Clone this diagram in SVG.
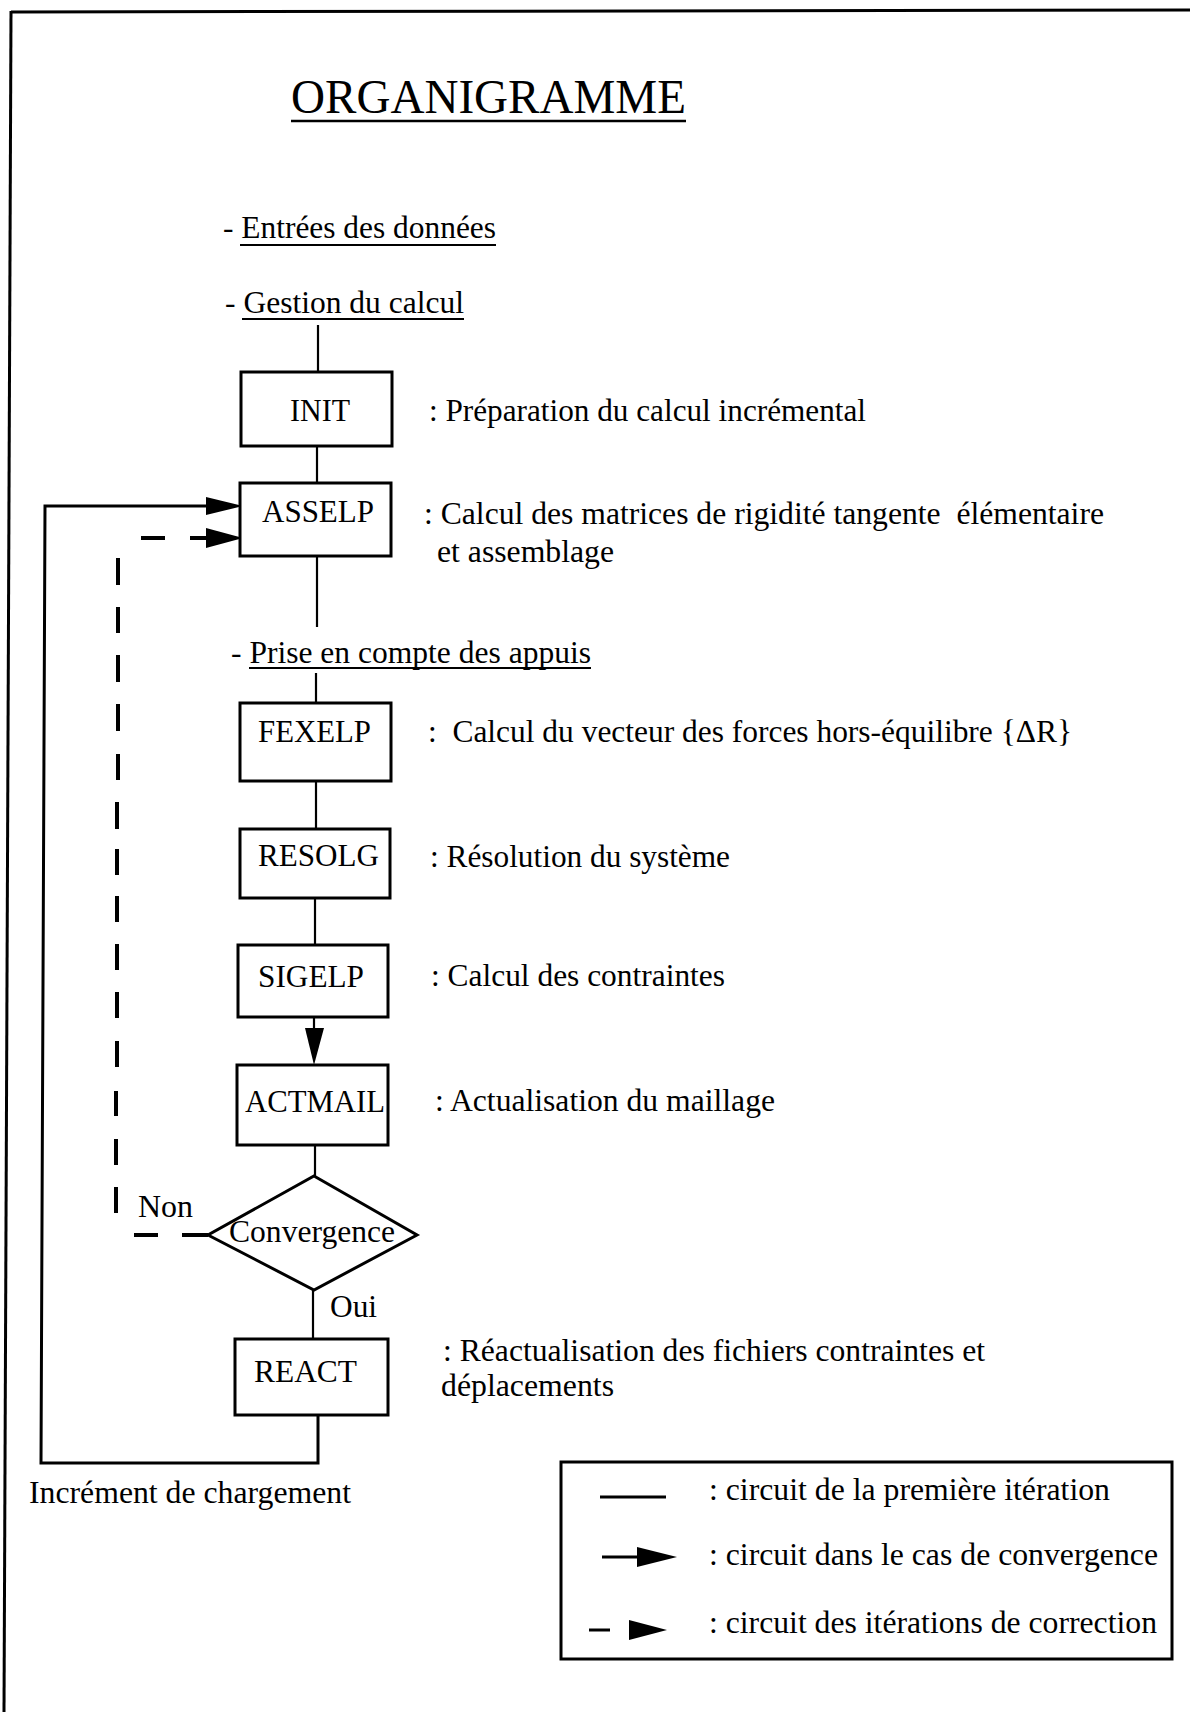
<svg xmlns="http://www.w3.org/2000/svg" width="1190" height="1712" viewBox="0 0 1190 1712">
<style>
text{font-family:"Liberation Serif","Times New Roman",serif;font-size:31.5px;fill:#000}
.t{font-size:47.5px}
.box{fill:#fff;stroke:#000;stroke-width:3}
.ln{fill:none;stroke:#000;stroke-width:2.2}
.th{fill:none;stroke:#000;stroke-width:3}
.dsh{fill:none;stroke:#000;stroke-width:4}
.ah{fill:#000;stroke:none}
</style>
<rect x="0" y="0" width="1190" height="1712" fill="#fff"/>
<g id="frame">
<line x1="11" y1="12" x2="1190" y2="10" stroke="#000" stroke-width="3"/>
<line x1="11" y1="11" x2="4" y2="1712" stroke="#000" stroke-width="3"/>
</g>
<g id="title">
<text class="t" x="291" y="113" textLength="395" lengthAdjust="spacingAndGlyphs">ORGANIGRAMME</text>
<line x1="291" y1="121" x2="686" y2="121" stroke="#000" stroke-width="2.5"/>
</g>
<g id="entrees">
<text x="223" y="238" textLength="273" lengthAdjust="spacingAndGlyphs">- Entrées des données</text>
<line x1="240" y1="245" x2="496" y2="245" stroke="#000" stroke-width="2"/>
</g>
<g id="gestion">
<text x="225" y="313" textLength="239" lengthAdjust="spacingAndGlyphs">- Gestion du calcul</text>
<line x1="242" y1="319" x2="464" y2="319" stroke="#000" stroke-width="2"/>
</g>
<g id="prise">
<text x="231" y="663" textLength="360" lengthAdjust="spacingAndGlyphs">- Prise en compte des appuis</text>
<line x1="249" y1="668" x2="591" y2="668" stroke="#000" stroke-width="2"/>
</g>
<g id="connectors">
<line class="ln" x1="318" y1="325" x2="318" y2="372"/>
<line class="ln" x1="317" y1="446" x2="317" y2="483"/>
<line class="ln" x1="317" y1="556" x2="317" y2="627"/>
<line class="ln" x1="316" y1="673" x2="316" y2="703"/>
<line class="ln" x1="316" y1="781" x2="316" y2="829"/>
<line class="ln" x1="315" y1="898" x2="315" y2="945"/>
<line class="ln" x1="314" y1="1017" x2="314" y2="1030"/>
<polygon class="ah" points="305,1028 324,1028 314,1065"/>
<line class="ln" x1="315" y1="1145" x2="315" y2="1176"/>
<line class="ln" x1="313" y1="1290" x2="313" y2="1339"/>
<path class="th" d="M318,1415 V1463 H41 L45,506 H208"/>
<polygon class="ah" points="206,497 243,506 206,515"/>
<path class="dsh" d="M134,1235 H158 M182,1235 H208 M116,1187 V1213 M116,1139 V1165 M116,1091 V1116 M117,1041 V1067 M117,992 V1018 M117,944 V970 M117,896 V922 M117,849 V875 M117,802 V829 M118,754 V780 M118,704 V731 M118,655 V682 M118,607 V633 M118,558 V585 M141,538 H165 M190,538 H208"/>
<polygon class="ah" points="206,528 243,538 206,548"/>
</g>
<g id="init">
<rect class="box" x="241" y="372" width="151" height="74"/>
<text x="290" y="421" textLength="60" lengthAdjust="spacingAndGlyphs">INIT</text>
<text x="429" y="421" textLength="437" lengthAdjust="spacingAndGlyphs">: Préparation du calcul incrémental</text>
</g>
<g id="asselp">
<rect class="box" x="240" y="483" width="151" height="73"/>
<text x="262" y="522" textLength="112" lengthAdjust="spacingAndGlyphs">ASSELP</text>
<text x="424" y="524" xml:space="preserve" textLength="680" lengthAdjust="spacingAndGlyphs">: Calcul des matrices de rigidité tangente  élémentaire</text>
<text x="437" y="562" textLength="177" lengthAdjust="spacingAndGlyphs">et assemblage</text>
</g>
<g id="fexelp">
<rect class="box" x="240" y="703" width="151" height="78"/>
<text x="258" y="742" textLength="113" lengthAdjust="spacingAndGlyphs">FEXELP</text>
<text x="428" y="742" xml:space="preserve" textLength="644" lengthAdjust="spacingAndGlyphs">:  Calcul du vecteur des forces hors-équilibre {ΔR}</text>
</g>
<g id="resolg">
<rect class="box" x="240" y="829" width="150" height="69"/>
<text x="258" y="866" textLength="121" lengthAdjust="spacingAndGlyphs">RESOLG</text>
<text x="430" y="867" textLength="300" lengthAdjust="spacingAndGlyphs">: Résolution du système</text>
</g>
<g id="sigelp">
<rect class="box" x="238" y="945" width="150" height="72"/>
<text x="258" y="987" textLength="106" lengthAdjust="spacingAndGlyphs">SIGELP</text>
<text x="431" y="986" textLength="294" lengthAdjust="spacingAndGlyphs">: Calcul des contraintes</text>
</g>
<g id="actmail">
<rect class="box" x="237" y="1065" width="151" height="80"/>
<text x="245" y="1112" textLength="140" lengthAdjust="spacingAndGlyphs">ACTMAIL</text>
<text x="435" y="1111" textLength="340" lengthAdjust="spacingAndGlyphs">: Actualisation du maillage</text>
</g>
<g id="convergence">
<polygon class="th" points="314,1176 417,1235 314,1290 208,1235"/>
<text x="229" y="1242" textLength="166" lengthAdjust="spacingAndGlyphs">Convergence</text>
<text x="138" y="1217" textLength="55" lengthAdjust="spacingAndGlyphs">Non</text>
<text x="330" y="1317" textLength="47" lengthAdjust="spacingAndGlyphs">Oui</text>
</g>
<g id="react">
<rect class="box" x="235" y="1339" width="153" height="76"/>
<text x="254" y="1382" textLength="103" lengthAdjust="spacingAndGlyphs">REACT</text>
<text x="443" y="1361" textLength="542" lengthAdjust="spacingAndGlyphs">: Réactualisation des fichiers contraintes et</text>
<text x="441" y="1396" textLength="173" lengthAdjust="spacingAndGlyphs">déplacements</text>
</g>
<g id="increment">
<text x="29" y="1503" textLength="322" lengthAdjust="spacingAndGlyphs">Incrément de chargement</text>
</g>
<g id="legend">
<rect class="box" x="561" y="1462" width="611" height="197"/>
<line class="th" x1="600" y1="1497" x2="666" y2="1497"/>
<text x="709" y="1500" textLength="401" lengthAdjust="spacingAndGlyphs">: circuit de la première itération</text>
<line class="th" x1="602" y1="1557" x2="640" y2="1557"/>
<polygon class="ah" points="637,1547 677,1557 637,1567"/>
<text x="709" y="1565" textLength="449" lengthAdjust="spacingAndGlyphs">: circuit dans le cas de convergence</text>
<line class="th" x1="589" y1="1630" x2="610" y2="1630"/>
<polygon class="ah" points="629,1620 667,1630 629,1640"/>
<text x="709" y="1633" textLength="448" lengthAdjust="spacingAndGlyphs">: circuit des itérations de correction</text>
</g>
</svg>
